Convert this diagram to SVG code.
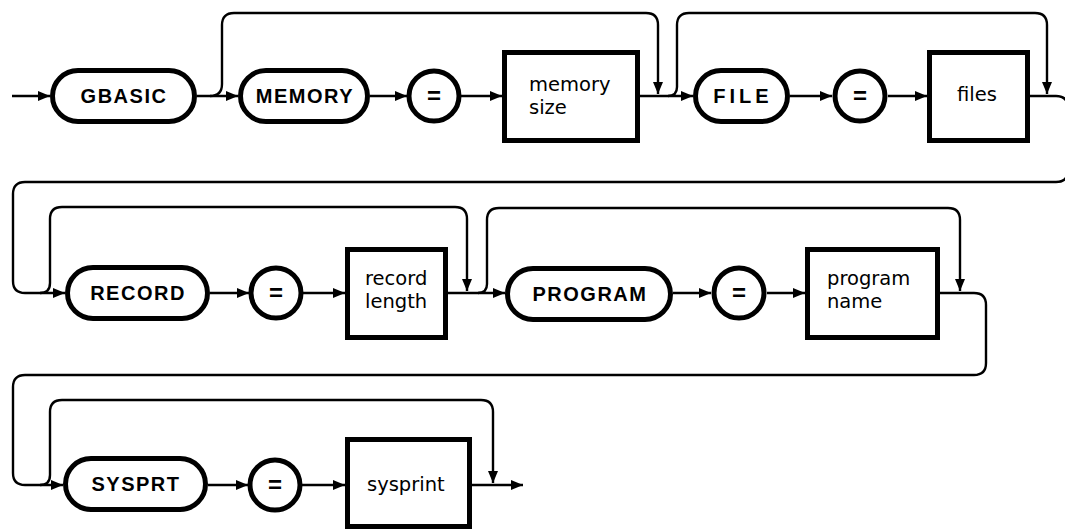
<svg xmlns="http://www.w3.org/2000/svg" width="1065" height="529" viewBox="0 0 1065 529">
  <style>
    .kw { fill: #fff; stroke: #000; stroke-width: 5; }
    .box { fill: #fff; stroke: #000; stroke-width: 5; }
    .line { fill: none; stroke: #000; stroke-width: 2.4; }
    .cap { font-family: "Liberation Sans", Arial, sans-serif; font-weight: bold; font-size: 20px; letter-spacing: 1.5px; text-anchor: middle; fill: #000; }
    .eq { font-family: "Liberation Sans", Arial, sans-serif; font-weight: bold; font-size: 24px; text-anchor: middle; fill: #000; }
    .low { font-family: "DejaVu Sans", "Liberation Sans", sans-serif; font-size: 19.5px; fill: #000; }
  </style>
  <defs>
    <marker id="arrow" markerUnits="userSpaceOnUse" markerWidth="13" markerHeight="11" refX="12" refY="5" orient="auto">
      <path d="M0,0 L12,5 L0,10 z" fill="#000"/>
    </marker>
  </defs>

  <rect width="1065" height="529" fill="#fff"/>

  <!-- connectors -->
  <g id="connectors" class="line">
    <!-- row 1 -->
    <path d="M12,96 H50" marker-end="url(#arrow)"/>
    <path d="M197,96 H238" marker-end="url(#arrow)"/>
    <path d="M210,96 Q222,96 222,84 V25 Q222,13 234,13 H646 Q658,13 658,25 V94" marker-end="url(#arrow)"/>
    <path d="M370,96 H407" marker-end="url(#arrow)"/>
    <path d="M461,96 H502" marker-end="url(#arrow)"/>
    <path d="M640,96 H693" marker-end="url(#arrow)"/>
    <path d="M668,96 Q677,96 677,87 V25 Q677,13 689,13 H1035 Q1047,13 1047,25 V94" marker-end="url(#arrow)"/>
    <path d="M790,96 H832" marker-end="url(#arrow)"/>
    <path d="M888,96 H927" marker-end="url(#arrow)"/>
    <!-- wrap from row 1 to row 2 -->
    <path d="M1030,96 H1056 Q1068,96 1068,108 V170 Q1068,182 1056,182 H25 Q13,182 13,194 V281 Q13,293 25,293 H65" marker-end="url(#arrow)"/>

    <!-- row 2 -->
    <path d="M40,293 Q50,293 50,283 V219 Q50,207 62,207 H455 Q467,207 467,219 V291" marker-end="url(#arrow)"/>
    <path d="M210,293 H249" marker-end="url(#arrow)"/>
    <path d="M303,293 H345" marker-end="url(#arrow)"/>
    <path d="M448,293 H505" marker-end="url(#arrow)"/>
    <path d="M478,293 Q487,293 487,284 V220 Q487,208 499,208 H948 Q960,208 960,220 V291" marker-end="url(#arrow)"/>
    <path d="M673,293 H711" marker-end="url(#arrow)"/>
    <path d="M767,293 H805" marker-end="url(#arrow)"/>
    <!-- wrap from row 2 to row 3 -->
    <path d="M940,293 H974 Q986,293 986,305 V363 Q986,375 974,375 H25 Q13,375 13,387 V473 Q13,485 25,485 H63" marker-end="url(#arrow)"/>

    <!-- row 3 -->
    <path d="M40,485 Q50,485 50,475 V412 Q50,400 62,400 H481 Q493,400 493,412 V483" marker-end="url(#arrow)"/>
    <path d="M208,485 H248" marker-end="url(#arrow)"/>
    <path d="M302,485 H345" marker-end="url(#arrow)"/>
    <path d="M472,485 H523" marker-end="url(#arrow)"/>
  </g>

  <!-- row 1 nodes -->
  <g id="gbasic">
    <rect class="kw" x="52.5" y="70.5" width="142" height="51" rx="25.5"/>
    <text class="cap" x="124" y="103">GBASIC</text>
  </g>
  <g id="memory">
    <rect class="kw" x="240.5" y="70.5" width="127" height="51" rx="25.5"/>
    <text class="cap" x="305" y="103">MEMORY</text>
  </g>
  <g id="eq-memory">
    <circle class="kw" cx="434" cy="96" r="25"/>
    <text class="eq" x="434" y="104">=</text>
  </g>
  <g id="memory-size">
    <rect class="box" x="504.5" y="52.5" width="133" height="88"/>
    <text class="low" x="529" y="91">memory</text>
    <text class="low" x="529" y="114">size</text>
  </g>
  <g id="file">
    <rect class="kw" x="695.5" y="70.5" width="92" height="51" rx="25.5"/>
    <text class="cap" x="743" y="103" style="letter-spacing:4px">FILE</text>
  </g>
  <g id="eq-file">
    <circle class="kw" cx="860" cy="96" r="25"/>
    <text class="eq" x="860" y="104">=</text>
  </g>
  <g id="files">
    <rect class="box" x="929.5" y="52.5" width="98" height="88"/>
    <text class="low" x="957" y="101">files</text>
  </g>

  <!-- row 2 nodes -->
  <g id="record">
    <rect class="kw" x="67.5" y="267.5" width="140" height="51" rx="25.5"/>
    <text class="cap" x="138" y="300">RECORD</text>
  </g>
  <g id="eq-record">
    <circle class="kw" cx="276" cy="293" r="25"/>
    <text class="eq" x="276" y="301">=</text>
  </g>
  <g id="record-length">
    <rect class="box" x="347.5" y="249.5" width="98" height="88"/>
    <text class="low" x="365" y="285">record</text>
    <text class="low" x="365" y="308">length</text>
  </g>
  <g id="program">
    <rect class="kw" x="507.5" y="268.5" width="163" height="51" rx="25.5"/>
    <text class="cap" x="590" y="301">PROGRAM</text>
  </g>
  <g id="eq-program">
    <circle class="kw" cx="739" cy="293" r="25"/>
    <text class="eq" x="739" y="301">=</text>
  </g>
  <g id="program-name">
    <rect class="box" x="807.5" y="249.5" width="130" height="88"/>
    <text class="low" x="827" y="285">program</text>
    <text class="low" x="827" y="308">name</text>
  </g>

  <!-- row 3 nodes -->
  <g id="sysprt">
    <rect class="kw" x="65.5" y="458.5" width="140" height="51" rx="25.5"/>
    <text class="cap" x="136" y="491">SYSPRT</text>
  </g>
  <g id="eq-sysprt">
    <circle class="kw" cx="275" cy="485" r="25"/>
    <text class="eq" x="275" y="493">=</text>
  </g>
  <g id="sysprint">
    <rect class="box" x="347.5" y="439.5" width="122" height="87"/>
    <text class="low" x="367" y="491">sysprint</text>
  </g>
</svg>
